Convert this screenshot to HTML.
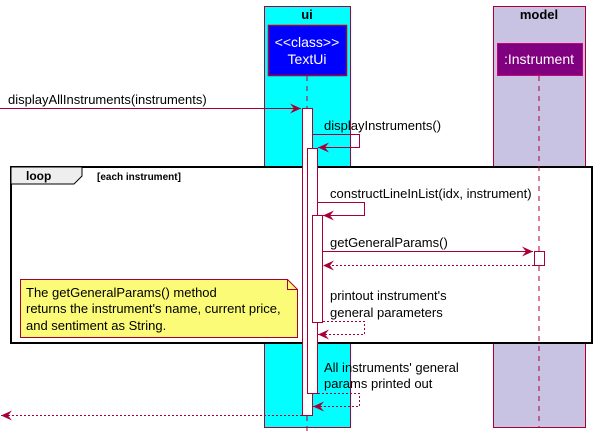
<!DOCTYPE html>
<html><head><meta charset="utf-8"><style>
html,body{margin:0;padding:0;background:#fff;}
svg{display:block;font-family:"Liberation Sans",sans-serif;}
</style></head><body>
<svg width="596" height="439" viewBox="0 0 596 439" xmlns="http://www.w3.org/2000/svg">
<defs>
<marker id="ah" markerWidth="12" markerHeight="10" refX="11" refY="5" orient="auto" markerUnits="userSpaceOnUse">
<path d="M0,0 L11,5 L0,10 L4,5 Z" fill="#A80036"/>
</marker>
</defs>
<!-- boxes -->
<rect x="264.5" y="6.5" width="86" height="421" fill="#00FFFF" stroke="#A80036"/>
<text x="307" y="19" font-size="13" font-weight="bold" text-anchor="middle">ui</text>
<rect x="493.5" y="6.5" width="92" height="421" fill="#C9C3E3" stroke="#A80036"/>
<text x="539" y="19" font-size="13" font-weight="bold" text-anchor="middle">model</text>
<!-- heads -->
<rect x="268.5" y="25.5" width="78" height="50" fill="#0000FF" stroke="#A80036" stroke-width="1.5"/>
<text x="307" y="47" font-size="14" fill="#fff" text-anchor="middle">&lt;&lt;class&gt;&gt;</text>
<text x="307" y="64" font-size="14" fill="#fff" text-anchor="middle">TextUi</text>
<rect x="497.5" y="43.5" width="85" height="32" fill="#800080" stroke="#C07" stroke-width="1"/>
<text x="539" y="64" font-size="14" fill="#fff" text-anchor="middle">:Instrument</text>
<!-- loop frame -->
<rect x="11" y="167" width="581" height="176" fill="#fff" stroke="#000" stroke-width="2"/>
<path d="M11,167 L82,167 L82,176 L74,184 L11,184 Z" fill="#EEEEEE" stroke="#000" stroke-width="1"/>
<text x="26" y="180" font-size="12" font-weight="bold">loop</text>
<text x="97" y="180" font-size="10" font-weight="bold">[each instrument]</text>
<!-- lifelines -->
<line x1="307" y1="76" x2="307" y2="432" stroke="#A80036" stroke-dasharray="5,5"/>
<line x1="539" y1="76" x2="539" y2="427" stroke="#A80036" stroke-dasharray="5,5"/>
<!-- activations -->
<rect x="302.5" y="108.5" width="10" height="307" fill="#fff" stroke="#A80036"/>
<rect x="307.5" y="148.5" width="10" height="245" fill="#fff" stroke="#A80036"/>
<rect x="312.5" y="215.5" width="10" height="107" fill="#fff" stroke="#A80036"/>
<rect x="534.5" y="251.5" width="10" height="14" fill="#fff" stroke="#A80036"/>
<!-- messages -->
<g stroke="#A80036" fill="none">
<line x1="0" y1="108.5" x2="301" y2="108.5" marker-end="url(#ah)"/>
<polyline points="313,134.5 359.5,134.5 359.5,147.5 318,147.5" marker-end="url(#ah)"/>
<polyline points="318,202.5 364.5,202.5 364.5,215.5 323,215.5" marker-end="url(#ah)"/>
<line x1="323" y1="251.5" x2="533" y2="251.5" marker-end="url(#ah)"/>
<line x1="534" y1="265.5" x2="323" y2="265.5" stroke-dasharray="2,2" marker-end="url(#ah)"/>
<polyline points="323,321.5 364.5,321.5 364.5,334.5 318,334.5" stroke-dasharray="2,2" marker-end="url(#ah)"/>
<polyline points="318,393.5 359.5,393.5 359.5,406.5 313,406.5" stroke-dasharray="2,2" marker-end="url(#ah)"/>
<line x1="302" y1="415.5" x2="1" y2="415.5" stroke-dasharray="2,2" marker-end="url(#ah)"/>
</g>
<g font-size="13" fill="#000">
<text x="8" y="104">displayAllInstruments(instruments)</text>
<text x="324" y="130">displayInstruments()</text>
<text x="330" y="198">constructLineInList(idx, instrument)</text>
<text x="330" y="247">getGeneralParams()</text>
<text x="330" y="300">printout instrument's</text>
<text x="330" y="317">general parameters</text>
<text x="324" y="372">All instruments' general</text>
<text x="324" y="388">params printed out</text>
</g>
<!-- note -->
<path d="M20.5,279.5 L287.5,279.5 L297.5,289.5 L297.5,337.5 L20.5,337.5 Z" fill="#FBFB77" stroke="#A80036"/>
<path d="M287.5,279.5 L287.5,289.5 L297.5,289.5" fill="none" stroke="#A80036"/>
<g font-size="13">
<text x="26" y="297">The getGeneralParams() method</text>
<text x="26" y="313">returns the instrument's name, current price,</text>
<text x="26" y="330">and sentiment as String.</text>
</g>
</svg>
</body></html>
